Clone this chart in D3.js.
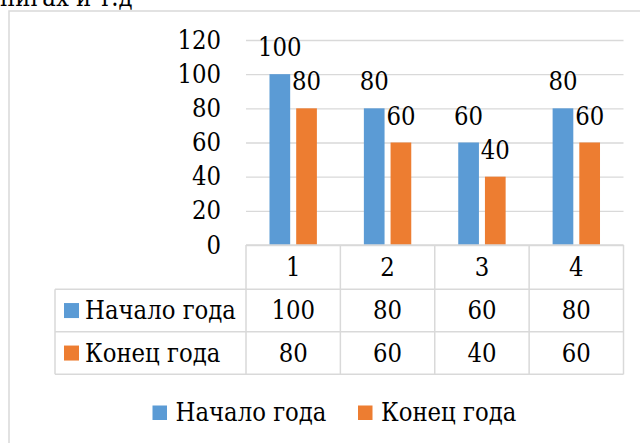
<!DOCTYPE html>
<html>
<head>
<meta charset="utf-8">
<script src="https://cdn.jsdelivr.net/npm/d3@7"></script>
<style>
  body { margin: 0; background: #fff; }
</style>
</head>
<body>
<svg width="640" height="443"></svg>
<script>
// data
const categories = ['1', '2', '3', '4'];
const seriesNames = ['Начало года', 'Конец года'];
const startYear = [100, 80, 60, 80];
const endYear = [80, 60, 40, 60];
const yTicks = [0, 20, 40, 60, 80, 100, 120];
const colors = ['#5B9BD5', '#ED7D31'];

const svg = d3.select('svg');
const W = +svg.attr('width');
const H = +svg.attr('height');
const font = 'DejaVu Serif Condensed, DejaVu Serif, serif';
const grid = '#D9D9D9';

// pick a font size so the series name is as wide as in the picture (~151px)
const probe = svg.append('text')
    .style('font-family', font)
    .style('font-size', '28px')
    .text(seriesNames[0]);
const fs = Math.min(28, 28 * 151 / probe.node().getComputedTextLength());
probe.remove();

// cut line of text from the page above
svg.append('text')
    .attr('x', 0)
    .attr('y', 6)
    .style('font-family', font)
    .style('font-size', fs + 'px')
    .text('нигах и т.д');

// chart frame
svg.append('rect')
    .attr('x', 9)
    .attr('y', 11)
    .attr('width', W + 20)
    .attr('height', H + 20)
    .attr('fill', '#fff')
    .attr('stroke', grid)
    .attr('stroke-width', 1.5);

// plot area
const plotL = 246, plotR = 623.5, plotT = 40, plotB = 245;
const y = d3.scaleLinear().domain([0, 120]).range([plotB, plotT]);
const x0 = d3.scaleBand().domain(categories).range([plotL, plotR]).padding(0);
const x1 = d3.scaleBand().domain(seriesNames).range([0, x0.bandwidth()])
    .paddingInner(0.225).paddingOuter(0.88);

// y axis + gridlines
const yAxis = svg.append('g')
    .attr('transform', `translate(${plotL},0)`)
    .call(d3.axisLeft(y).tickValues(yTicks).tickSize(-(plotR - plotL)).tickPadding(25));
yAxis.select('.domain').remove();
yAxis.selectAll('line').attr('stroke', grid).attr('stroke-width', 1.3);
yAxis.selectAll('text')
    .attr('fill', '#000')
    .style('font-family', font)
    .style('font-size', fs + 'px');

// bars
const rows = [startYear, endYear];
const groups = svg.selectAll('g.cat')
    .data(categories)
    .join('g')
    .attr('class', 'cat')
    .attr('transform', d => `translate(${x0(d)},0)`);

groups.selectAll('rect')
    .data((c, i) => seriesNames.map((s, k) => ({ s, k, v: rows[k][i] })))
    .join('rect')
    .attr('x', d => x1(d.s))
    .attr('y', d => y(d.v))
    .attr('width', x1.bandwidth())
    .attr('height', d => y(0) - y(d.v))
    .attr('fill', d => colors[d.k]);

// data labels
groups.selectAll('text.lbl')
    .data((c, i) => seriesNames.map((s, k) => ({ s, k, v: rows[k][i] })))
    .join('text')
    .attr('class', 'lbl')
    .attr('x', d => x1(d.s) + x1.bandwidth() / 2)
    .attr('y', d => y(d.v) - 18)
    .attr('text-anchor', 'middle')
    .style('font-family', font)
    .style('font-size', fs + 'px')
    .text(d => d.v);

// data table
const tLeft = 55;
const rowH = [plotB, 289.3, 331.8, 374.3];
const tbl = svg.append('g')
    .attr('stroke', grid)
    .attr('stroke-width', 1.5)
    .attr('fill', 'none');

// horizontal lines
tbl.append('line').attr('x1', plotL).attr('x2', plotR).attr('y1', rowH[0]).attr('y2', rowH[0]);
rowH.slice(1).forEach(ry => {
    tbl.append('line').attr('x1', tLeft).attr('x2', plotR).attr('y1', ry).attr('y2', ry);
});
// vertical lines
const colX = categories.map(c => x0(c)).concat([plotR]);
colX.forEach(cx => {
    tbl.append('line').attr('x1', cx).attr('x2', cx).attr('y1', rowH[0]).attr('y2', rowH[3]);
});
tbl.append('line').attr('x1', tLeft).attr('x2', tLeft).attr('y1', rowH[1]).attr('y2', rowH[3]);

const txt = svg.append('g');

// category row
txt.selectAll('text.catlbl')
    .data(categories)
    .join('text')
    .attr('class', 'catlbl')
    .attr('x', d => x0(d) + x0.bandwidth() / 2)
    .attr('y', (rowH[0] + rowH[1]) / 2)
    .attr('dy', '0.35em')
    .attr('text-anchor', 'middle')
    .text(d => d);

// value rows
rows.forEach((vals, k) => {
    const cy = (rowH[k + 1] + rowH[k + 2]) / 2;
    txt.append('rect')
        .attr('x', 64).attr('y', cy - 7.5)
        .attr('width', 15).attr('height', 15)
        .attr('fill', colors[k]);
    txt.append('text')
        .attr('x', 85).attr('y', cy).attr('dy', '0.35em')
        .text(seriesNames[k]);
    txt.selectAll('text.v' + k)
        .data(vals)
        .join('text')
        .attr('class', 'v' + k)
        .attr('x', (d, i) => x0(categories[i]) + x0.bandwidth() / 2)
        .attr('y', cy)
        .attr('dy', '0.35em')
        .attr('text-anchor', 'middle')
        .text(d => d);
});

// legend
const legX = [152.5, 358];
seriesNames.forEach((s, k) => {
    txt.append('rect')
        .attr('x', legX[k]).attr('y', 405.5)
        .attr('width', 14.5).attr('height', 14.5)
        .attr('fill', colors[k]);
    txt.append('text')
        .attr('x', legX[k] + 23).attr('y', 421)
        .text(s);
});

txt.selectAll('text')
    .style('font-family', font)
    .style('font-size', fs + 'px');
</script>
</body>
</html>
